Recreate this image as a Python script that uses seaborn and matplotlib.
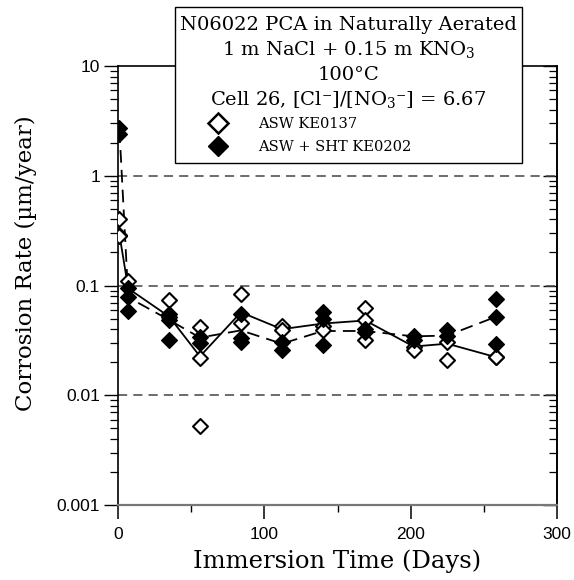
import numpy as np
import pandas as pd
import matplotlib
matplotlib.use("Agg")
import matplotlib.pyplot as plt
import seaborn as sns
from matplotlib.ticker import LogLocator, MultipleLocator, FixedLocator, FuncFormatter, NullFormatter
from matplotlib.patches import Rectangle
from matplotlib.lines import Line2D

# ---------------- data ----------------
asw_days = [1, 1, 1, 7, 35, 35, 56, 56, 56, 84, 84, 112, 112, 140, 140,
            169, 169, 169, 202, 202, 225, 225, 258, 258]
asw_rate = [0.40, 0.29, 0.28, 0.11, 0.074, 0.052, 0.042, 0.022, 0.0053, 0.084, 0.046,
            0.043, 0.039, 0.043, 0.039, 0.062, 0.049, 0.032, 0.0275, 0.0257,
            0.0305, 0.0208, 0.0225, 0.0222]

sht_days = [1, 1, 7, 7, 7, 35, 35, 35, 56, 56, 84, 84, 84, 112, 112,
            140, 140, 140, 169, 169, 202, 202, 225, 225, 258, 258, 258]
sht_rate = [2.7, 2.4, 0.094, 0.079, 0.059, 0.055, 0.049, 0.032, 0.034, 0.030,
            0.055, 0.0335, 0.0305, 0.0305, 0.0257, 0.057, 0.050, 0.0285,
            0.040, 0.038, 0.035, 0.0316, 0.039, 0.035, 0.0757, 0.0517, 0.0295]

line_days = [1, 7, 35, 56, 84, 112, 140, 169, 202, 225, 258]
asw_line = [0.29, 0.094, 0.052, 0.0226, 0.057, 0.040, 0.045, 0.048, 0.0278, 0.0295, 0.0223]
sht_line = [2.6, 0.078, 0.0485, 0.0335, 0.039, 0.0295, 0.0385, 0.0385, 0.0344, 0.035, 0.0517]

series_labels = ["ASW KE0137", "ASW + SHT KE0202"]
title_lines = ["N06022 PCA in Naturally Aerated",
               r"1 m NaCl + 0.15 m KNO$_3$",
               "100\u00b0C",
               "Cell 26, [Cl\u207b]/[NO$_3$\u207b] = 6.67"]
x_ticks = [0, 100, 200, 300]
y_ticks = [0.001, 0.01, 0.1, 1, 10]

# ---------------- style ----------------
sns.set_theme(style="white")
plt.rcParams["font.family"] = ["DejaVu Serif"]
plt.rcParams["mathtext.fontset"] = "dejavuserif"
for k in ["text.color", "axes.labelcolor", "xtick.color", "ytick.color"]:
    plt.rcParams[k] = "black"

W, H = 574, 580
fig = plt.figure(figsize=(W / 100, H / 100), dpi=100)
L, R, T, B = 118, 557, 66, 505
ax = fig.add_axes([L / W, 1 - B / H, (R - L) / W, (B - T) / H])

df_a = pd.DataFrame({"day": asw_days, "rate": asw_rate})
df_s = pd.DataFrame({"day": sht_days, "rate": sht_rate})
df_la = pd.DataFrame({"day": line_days, "rate": asw_line})
df_ls = pd.DataFrame({"day": line_days, "rate": sht_line})

sns.lineplot(data=df_la, x="day", y="rate", ax=ax, color="black", lw=1.3,
             estimator=None, sort=False, zorder=3)
sns.lineplot(data=df_ls, x="day", y="rate", ax=ax, color="black", lw=1.3,
             estimator=None, sort=False, zorder=3, dashes=False)
ax.lines[-1].set_dashes([7, 4])

sns.scatterplot(data=df_a, x="day", y="rate", ax=ax, marker="D", s=58,
                facecolor="white", edgecolor="black", linewidth=1.5, zorder=4)
sns.scatterplot(data=df_s, x="day", y="rate", ax=ax, marker="D", s=64,
                color="black", edgecolor="black", linewidth=1.0, zorder=5)

ax.set_yscale("log")
ax.set_xlim(0, 300)
ax.set_ylim(0.001, 10)

# grid
for g in [0.01, 0.1, 1]:
    ax.axhline(g, color="#444444", lw=1.1, ls=(0, (6, 4)), zorder=1)

# ticks
ax.xaxis.set_major_locator(FixedLocator(x_ticks))
ax.xaxis.set_minor_locator(MultipleLocator(50))
ax.yaxis.set_major_locator(FixedLocator(y_ticks))
ax.yaxis.set_minor_locator(LogLocator(base=10, subs=np.arange(2, 10)))
ax.yaxis.set_minor_formatter(NullFormatter())
ax.yaxis.set_major_formatter(FuncFormatter(lambda v, p: f"{v:g}"))
ax.tick_params(axis="x", which="major", direction="out", length=10, width=1.1,
               bottom=True, top=False, labelsize=12.5, pad=6, color="black")
ax.tick_params(axis="x", which="minor", direction="out", length=5, width=1.0,
               bottom=True, top=False, color="black")
ax.tick_params(axis="y", which="major", direction="out", length=10, width=1.0,
               left=True, right=False, labelsize=12.5, pad=3, color="black")
ax.tick_params(axis="y", which="minor", direction="out", length=6, width=0.9,
               left=True, right=False, color="black")
for lab in ax.get_xticklabels() + ax.get_yticklabels():
    lab.set_fontfamily(["Liberation Sans", "DejaVu Sans"])

sec = ax.secondary_yaxis("right")
sec.yaxis.set_major_locator(FixedLocator(y_ticks))
sec.yaxis.set_minor_locator(LogLocator(base=10, subs=np.arange(2, 10)))
sec.tick_params(which="major", direction="in", length=10, width=1.0, labelright=False)
sec.tick_params(which="minor", direction="in", length=6, width=0.9, labelright=False)
sec.spines["right"].set_color("black")
sec.spines["right"].set_linewidth(1.2)

for s in ["left", "top", "right"]:
    ax.spines[s].set_color("black")
    ax.spines[s].set_linewidth(1.2)
ax.spines["bottom"].set_color("#777777")
ax.spines["bottom"].set_linewidth(1.6)

ax.set_xlabel("Immersion Time (Days)", fontsize=17.5)
ax.set_ylabel("Corrosion Rate (\u00b5m/year)", fontsize=16.5)
ax.xaxis.set_label_coords(0.5, -0.102)
ax.yaxis.set_label_coords(-0.185, 0.55)

# title / legend box
bx0, bx1, by0, by1 = 175, 522, 7, 163
fig.add_artist(Rectangle((bx0 / W, 1 - by1 / H), (bx1 - bx0) / W, (by1 - by0) / H,
                         transform=fig.transFigure, facecolor="white",
                         edgecolor="black", lw=1.0, zorder=10))
cx = (bx0 + bx1) / 2 / W
for txt, yy in zip(title_lines, [25, 50, 75, 99]):
    fig.text(cx, 1 - yy / H, txt, ha="center", va="center", fontsize=14, zorder=11)

handles = [Line2D([], [], ls="none", marker="D", ms=10.5, mfc="white", mec="black", mew=1.8),
           Line2D([], [], ls="none", marker="D", ms=10.5, mfc="black", mec="black", mew=1.0)]
leg = fig.legend(handles, series_labels, loc="upper left",
                 bbox_to_anchor=(203 / W, 1 - 117 / H), bbox_transform=fig.transFigure,
                 frameon=False, fontsize=10.5, handlelength=2.0, handletextpad=1.8,
                 labelspacing=0.6, borderpad=0, borderaxespad=0)
leg.set_zorder(12)

fig.savefig("out.png", dpi=100)
